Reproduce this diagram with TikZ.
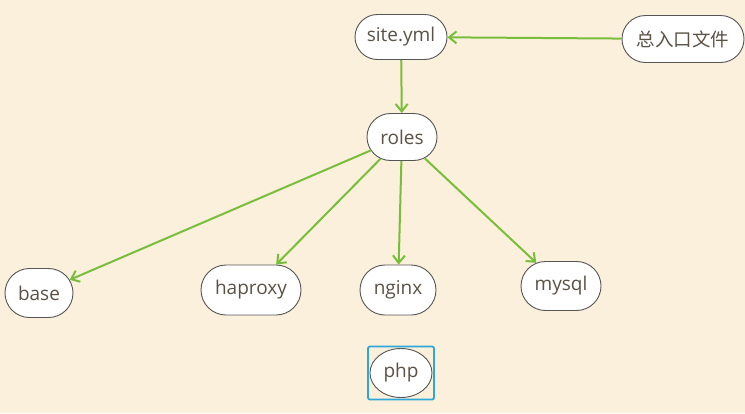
\documentclass[tikz,border=0pt]{standalone}
\usepackage{fontspec}
\setmainfont{Open Sans}
\newfontfamily\cjk{Noto Sans CJK SC}
\usetikzlibrary{shapes.misc,shapes.geometric,arrows.meta}
\definecolor{bg}{HTML}{FBF0DC}
\definecolor{arr}{HTML}{78BE3A}
\definecolor{txt}{HTML}{5A5246}
\definecolor{edge}{HTML}{555555}
\definecolor{sel}{HTML}{2EA8D8}
\begin{document}
\begin{tikzpicture}[x=1pt,y=-1pt,
  topic/.style={rounded rectangle, draw=edge, line width=0.9pt, fill=white,
    text=txt, font=\fontsize{19}{21}\selectfont, inner sep=0pt},
  link/.style={draw=arr, line width=2pt, -{Straight Barb[length=7.5pt,width=12pt,line width=2pt]}}]
\fill[bg] (0,0) rectangle (745,413);
\useasboundingbox (0,0) rectangle (745,413);
\node[topic, minimum width=92pt, minimum height=45pt] (site) at (401,37) {site.yml};
\node[topic, minimum width=122pt, minimum height=47pt, font=\cjk\fontsize{18.5}{20}\selectfont] (entry) at (683,39) {总入口文件};
\node[topic, minimum width=70pt, minimum height=47pt] (roles) at (402,137) {roles};
\node[topic, minimum width=68pt, minimum height=49pt] (base) at (39,293) {base};
\node[topic, minimum width=100pt, minimum height=50pt] (haproxy) at (251,290) {haproxy};
\node[topic, minimum width=76pt, minimum height=50pt] (nginx) at (398,290) {nginx};
\node[topic, minimum width=80pt, minimum height=49pt] (mysql) at (561,286) {mysql};
\node[ellipse, draw=edge, line width=0.9pt, fill=white, text=txt,
  font=\fontsize{19}{21}\selectfont, inner sep=0pt, minimum width=62pt, minimum height=49pt] (php) at (401,373) {php};
\node[draw=sel, line width=1.8pt, rounded corners=2pt, minimum width=66pt, minimum height=53pt, inner sep=0pt] (phpsel) at (401,373) {};
\draw[link] (entry) -- (site);
\draw[link] (site) -- (roles);
\draw[link] (roles) -- (base);
\draw[link] (roles) -- (haproxy);
\draw[link] (roles) -- (nginx);
\draw[link] (roles) -- (mysql);
\end{tikzpicture}
\end{document}
